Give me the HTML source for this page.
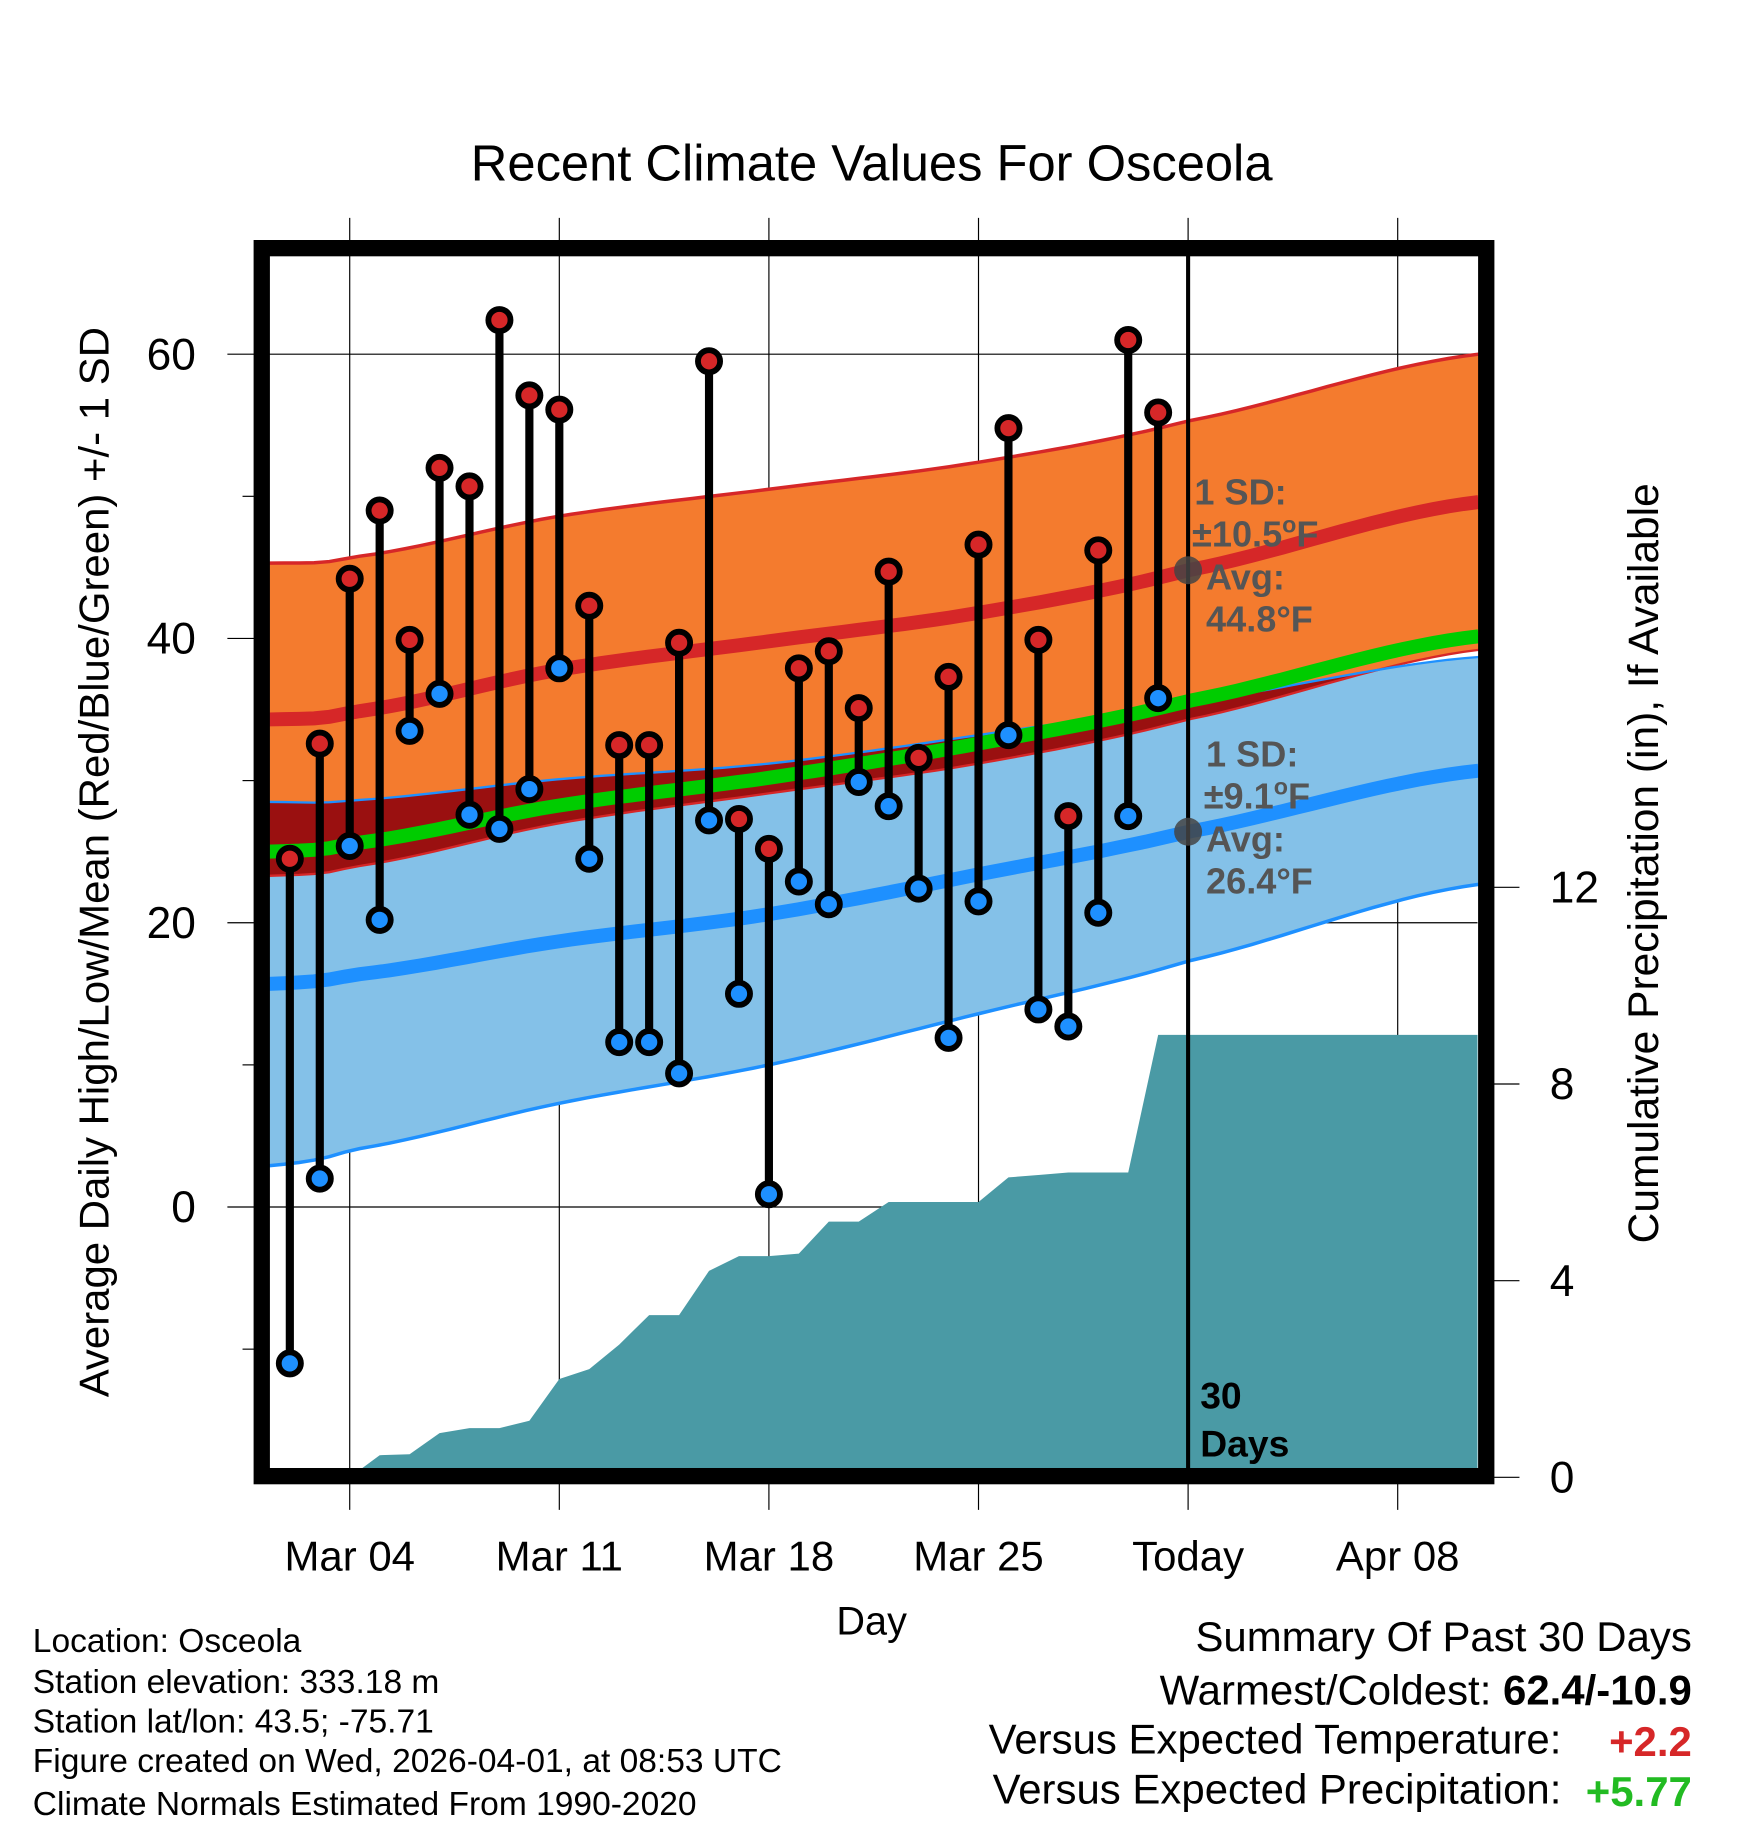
<!DOCTYPE html>
<html><head><meta charset="utf-8"><style>
html,body{margin:0;padding:0;background:#fff;}
svg{display:block;font-family:"Liberation Sans",Arial,sans-serif;}
</style></head><body>
<svg id="chart" width="1748" height="1828" viewBox="0 0 1500 1569" xmlns="http://www.w3.org/2000/svg">
<rect width="1500" height="1569" fill="#fff"/>
<text x="748" y="155" font-size="43.5" text-anchor="middle">Recent Climate Values For Osceola</text>
<g id="grid"></g>
<g id="bands"></g>
<g id="precip"></g>
<g id="marks"></g>
<g id="annot"></g>
<rect x="224.5" y="213" width="1051" height="1054" fill="none" stroke="#000" stroke-width="14"/>
<g id="ticks"></g>
<text transform="translate(93,740) rotate(-90)" font-size="36" text-anchor="middle">Average Daily High/Low/Mean (Red/Blue/Green) +/- 1 SD</text>
<text transform="translate(1423,741) rotate(-90)" font-size="36.5" text-anchor="middle">Cumulative Precipitation (in), If Available</text>
<text x="748" y="1403" font-size="34" text-anchor="middle">Day</text>
<g font-size="28.8">
<text x="28" y="1418">Location: Osceola</text>
<text x="28" y="1453">Station elevation: 333.18 m</text>
<text x="28" y="1487">Station lat/lon: 43.5; -75.71</text>
<text x="28" y="1521">Figure created on Wed, 2026-04-01, at 08:53 UTC</text>
<text x="28" y="1558">Climate Normals Estimated From 1990-2020</text>
</g>
<g font-size="36" text-anchor="end">
<text x="1452" y="1417">Summary Of Past 30 Days</text>
<text x="1452" y="1463">Warmest/Coldest: <tspan font-weight="bold">62.4/-10.9</tspan></text>
<text x="1340" y="1505">Versus Expected Temperature:</text>
<text x="1452" y="1507" font-weight="bold" fill="#d62728">+2.2</text>
<text x="1340" y="1548">Versus Expected Precipitation:</text>
<text x="1452" y="1550" font-weight="bold" fill="#22bb22">+5.77</text>
</g>
</svg>
<script>
const days=[2,3,4,5,6,7,8,9,10,11,12,13,14,15,16,17,18,19,20,21,22,23,24,25,26,27,28,29,30,31];
const highs=[24.5,32.6,44.2,49,39.9,52,50.7,62.4,57.1,56.1,42.3,32.5,32.5,39.7,59.5,27.3,25.2,37.9,39.1,35.1,44.7,31.6,37.3,46.6,54.8,39.9,27.5,46.2,61,55.9];
const lows=[-11,2,25.4,20.2,33.5,36.1,27.6,26.6,29.4,37.9,24.5,11.6,11.6,9.4,27.2,15,0.9,22.9,21.3,29.9,28.2,22.4,11.9,21.5,33.2,13.9,12.7,20.7,27.5,35.8];
const precip=[0,0,0,0.45,0.47,0.9,1.0,1.0,1.15,2.0,2.2,2.7,3.3,3.3,4.2,4.5,4.5,4.55,5.2,5.2,5.6,5.6,5.6,5.6,6.1,6.15,6.2,6.2,6.2,9.0];
const normDays=[1.3,4,11,18,25,32,41.7];
const highAvg=[34.3,34.8,37.8,39.8,41.8,44.8,49.6];
const highSd=[11,10.9,10.8,10.7,10.6,10.5,10.4];
const lowAvg=[15.7,16.3,18.7,20.6,23.4,26.4,30.7];
const lowSd=[12.8,12.3,11.4,10.6,9.8,9.1,8.0];
const leftTicks=[0,20,40,60];
const minorTicks=[-10,10,30,50];
const rightTicks=[0,4,8,12];
const xTickDays=[4,11,18,25,32,39];
const xTickLabels=["Mar 04","Mar 11","Mar 18","Mar 25","Today","Apr 08"];
const todayDay=32;

const NS="http://www.w3.org/2000/svg";
const X=d=>300+(d-4)*25.7;
const Y=v=>1036-v*12.2;
const YP=v=>1268-v*42.2;
const L=231,R=1268,T=219,B=1261;
function mk(tag,attrs,parent){const e=document.createElementNS(NS,tag);for(const k in attrs)e.setAttribute(k,attrs[k]);parent.appendChild(e);return e;}
const g=id=>document.getElementById(id);

// smooth sampling of normals (Catmull-Rom over the data arrays)
function interp(arr,d){const n=normDays.length;let i=0;while(i<n-2&&d>normDays[i+1])i++;
const x0=normDays[i],x1=normDays[i+1];const t=Math.max(0,Math.min(1,(d-x0)/(x1-x0)));
const p0=arr[Math.max(0,i-1)],p1=arr[i],p2=arr[i+1],p3=arr[Math.min(n-1,i+2)];
const m1=(p2-p0)/2,m2=(p3-p1)/2;const t2=t*t,t3=t2*t;
return (2*t3-3*t2+1)*p1+(t3-2*t2+t)*m1+(-2*t3+3*t2)*p2+(t3-t2)*m2;}
const samples=[];{const a=normDays[0],b=normDays[normDays.length-1];for(let k=0;k<=80;k++)samples.push(a+(b-a)*k/80);}
const HA=d=>interp(highAvg,d),HS=d=>interp(highSd,d),LA=d=>interp(lowAvg,d),LS=d=>interp(lowSd,d);

// grid
leftTicks.forEach(v=>{const e=mk('line',{x1:195,x2:R,y1:Y(v),y2:Y(v),stroke:'#000','stroke-width':1},g('grid'));

});
xTickDays.forEach(d=>{const e=mk('line',{x1:X(d),x2:X(d),y1:187,y2:1296,stroke:'#000','stroke-width':1},g('grid'));

});

// bands
const hi=d=>HA(d)+HS(d), hl=d=>HA(d)-HS(d), li=d=>LA(d)+LS(d), ll=d=>LA(d)-LS(d);
function band(top,bot,fill,name){let p=[];samples.forEach(d=>p.push(X(d).toFixed(1)+','+Y(top(d)).toFixed(1)));for(let i=samples.length-1;i>=0;i--)p.push(X(samples[i]).toFixed(1)+','+Y(bot(samples[i])).toFixed(1));
const e=mk('polygon',{points:p.join(' '),fill:fill},g('bands'));

}
function line(f,stroke,w,name){let p=[];samples.forEach(d=>p.push(X(d).toFixed(1)+','+Y(f(d)).toFixed(1)));
const e=mk('polyline',{points:p.join(' '),fill:'none',stroke:stroke,'stroke-width':w},g('bands'));

}
band(hi,hl,'#f47b2e','high-sd-band');
band(li,ll,'#84c1e8','low-sd-band');
band(li,d=>Math.min(hl(d),li(d)),'#9a1010','band-overlap');
line(hi,'#d62728',3,'high-upper-line');
line(hl,'#d62728',2,'high-lower-line');
line(li,'#1e90ff',2,'low-upper-line');
line(ll,'#1e90ff',3,'low-lower-line');
line(d=>(HA(d)+LA(d))/2,'#00cc00',12,'mean-line');
line(HA,'#d62728',12,'high-avg-line');
line(LA,'#1e90ff',12,'low-avg-line');

// precip
{let p=[X(days[0])+','+YP(0)];days.forEach((d,i)=>p.push(X(d)+','+YP(precip[i])));
p.push(R+','+YP(precip[precip.length-1]));p.push(R+','+B);p.push(X(days[0])+','+B);
const e=mk('polygon',{points:p.join(' '),fill:'#4a9aa5'},g('precip'));

}

// today line
{const e=mk('line',{x1:X(todayDay),x2:X(todayDay),y1:T,y2:B,stroke:'#000','stroke-width':3.5},g('marks'));

}

// daily marks
days.forEach((d,i)=>{
const bar=mk('line',{x1:X(d),x2:X(d),y1:Y(highs[i]),y2:Y(lows[i]),stroke:'#000','stroke-width':7},g('marks'));


const h=mk('circle',{cx:X(d),cy:Y(highs[i]),r:9.5,fill:'#d62728',stroke:'#000','stroke-width':5},g('marks'));


const l=mk('circle',{cx:X(d),cy:Y(lows[i]),r:9.5,fill:'#1e90ff',stroke:'#000','stroke-width':5},g('marks'));


});

// annotations
[[HA(todayDay),'high-avg-dot'],[LA(todayDay),'low-avg-dot']].forEach(([v,n])=>{
const e=mk('circle',{cx:X(todayDay),cy:Y(v),r:12,fill:'#444','fill-opacity':0.85},g('annot'));

});
function txt(x,y,s,opts,name){const e=mk('text',Object.assign({x:x,y:y},opts),g('annot'));e.textContent=s;

return e;}
const ao={'font-size':31,'font-weight':'bold',fill:'#555'};
function deg(e){const s=document.createElementNS(NS,'tspan');s.setAttribute('font-size',20);s.setAttribute('dy',-12);s.textContent='o';e.appendChild(s);const s2=document.createElementNS(NS,'tspan');s2.setAttribute('dy',12);s2.textContent='F';e.appendChild(s2);}
txt(1025,433,'1 SD:',ao,'high-sd-label');
deg(txt(1023,469,'±10.5',ao,'high-sd-value'));
txt(1035,506,'Avg:',ao,'high-avg-label');
txt(1035,542,'44.8°F',ao,'high-avg-value');
txt(1035,658,'1 SD:',ao,'low-sd-label');
deg(txt(1033,694,'±9.1',ao,'low-sd-value'));
txt(1035,731,'Avg:',ao,'low-avg-label');
txt(1035,767,'26.4°F',ao,'low-avg-value');
const bo={'font-size':32,'font-weight':'bold',fill:'#000'};
txt(1030,1209,'30',bo,'days-count');
txt(1030,1250,'Days',bo,'days-label');

// ticks
leftTicks.forEach(v=>{const e=mk('text',{x:168,y:Y(v)+13,'font-size':38,'text-anchor':'end'},g('ticks'));e.textContent=v;

});
minorTicks.forEach(v=>{const e=mk('line',{x1:208,x2:218,y1:Y(v),y2:Y(v),stroke:'#000','stroke-width':1},g('ticks'));

});
rightTicks.forEach(v=>{const t=mk('line',{x1:1282,x2:1304,y1:YP(v),y2:YP(v),stroke:'#000','stroke-width':1},g('ticks'));


const e=mk('text',{x:1330,y:YP(v)+13,'font-size':38,'text-anchor':'start'},g('ticks'));e.textContent=v;

});
xTickDays.forEach((d,i)=>{const e=mk('text',{x:X(d),y:1348,'font-size':36,'text-anchor':'middle'},g('ticks'));e.textContent=xTickLabels[i];

});
</script>
</body></html>
